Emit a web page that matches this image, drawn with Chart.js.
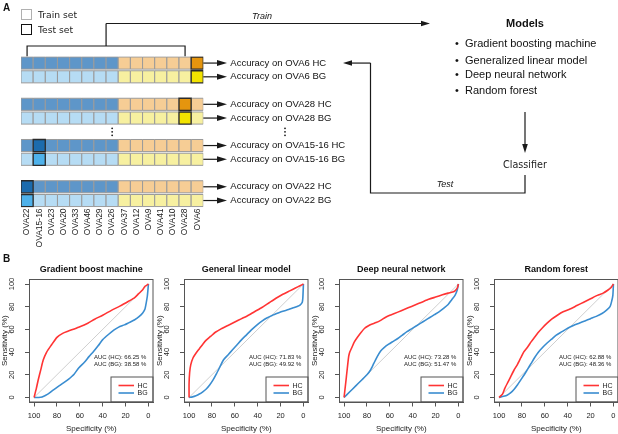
<!DOCTYPE html>
<html>
<head>
<meta charset="utf-8">
<script src="https://cdn.jsdelivr.net/npm/chart.js@4.4.1/dist/chart.umd.min.js"></script>
<style>
  html, body { margin: 0; padding: 0; background: #fff; overflow: hidden; }
  body { width: 618px; height: 434px; position: relative; font-family: 'Liberation Sans', Arial, sans-serif; color: #111; }
  canvas { position: absolute; }
  .t { position: absolute; white-space: nowrap; z-index: 2; }
  .sq { position: absolute; box-sizing: border-box; background: #fff; z-index: 2; }
</style>
</head>
<body>
<canvas id="grid" width="618" height="255" style="left:0;top:0"></canvas>
<canvas id="roc0" width="155" height="174" style="left:0;top:260px"></canvas>
<canvas id="roc1" width="155" height="174" style="left:155px;top:260px"></canvas>
<canvas id="roc2" width="155" height="174" style="left:310px;top:260px"></canvas>
<canvas id="roc3" width="155" height="174" style="left:465px;top:260px"></canvas>
<div class="sq" style="left:21px;top:9px;width:11px;height:11px;border:1px solid #b0b0b0"></div>
<div class="sq" style="left:21px;top:24px;width:11px;height:11px;border:1.4px solid #111"></div>
<script>
// ---- panel A: cross-validation layout ----
const columns = ['OVA22', 'OVA15-16', 'OVA23', 'OVA20', 'OVA33', 'OVA46', 'OVA29', 'OVA26',
                 'OVA37', 'OVA12', 'OVA9', 'OVA41', 'OVA10', 'OVA28', 'OVA6'];
const blueCount = 8;
const rowSlots = [0, 1, 3, 4, 6, 7, 9, 10];
const rowTypes = ['HC', 'BG', 'HC', 'BG', 'HC', 'BG', 'HC', 'BG'];
const rowLabels = ['Accuracy on OVA6 HC', 'Accuracy on OVA6 BG',
                   'Accuracy on OVA28 HC', 'Accuracy on OVA28 BG',
                   'Accuracy on OVA15-16 HC', 'Accuracy on OVA15-16 BG',
                   'Accuracy on OVA22 HC', 'Accuracy on OVA22 BG'];
const testColumns = [14, 14, 13, 13, 1, 1, 0, 0];
const modelNames = ['Gradient boosting machine', 'Generalized linear model', 'Deep neural network', 'Random forest'];

// ---- panel B: ROC curves (specificity %, sensitivity %) ----
const rocTitles = ['Gradient boost machine', 'General linear model', 'Deep neural network', 'Random forest'];
const aucHC = ['66.25', '71.83', '73.28', '62.88'];
const aucBG = ['38.58', '49.92', '51.47', '48.36'];
const rocTicks = [0, 20, 40, 60, 80, 100];

const gbmHcSpec = [100, 98, 96.5, 94, 92, 89, 85, 80, 75, 70, 61, 53, 47, 40, 32, 25, 17, 12, 8.5, 5, 3, 0];
const gbmHcSens = [0, 8, 15, 25, 33, 40, 46, 53, 56.5, 58.5, 62, 65.5, 69, 72.5, 77, 80.5, 85, 88, 91.5, 95, 98, 100];
const gbmBgSpec = [100, 96, 93, 88, 84, 79, 74, 70, 65, 61, 56, 52, 48, 44, 40, 35, 30, 26, 21, 17, 12, 8.5, 5, 3, 2, 1, 0.5, 0];
const gbmBgSens = [0, 0, 0.5, 3, 6, 9.5, 13, 16, 20.5, 26, 31, 36, 40.5, 45.5, 51, 55.5, 59.5, 62, 64, 66, 68.5, 71, 74.5, 78, 83, 89, 94, 100];

const glmHcSpec = [100, 100, 99.5, 98.5, 96.5, 94, 91, 88, 85, 81, 77, 72, 66, 60, 54, 48, 42, 36, 30, 24, 18, 12, 7, 3, 0];
const glmHcSens = [0, 12, 22, 29, 35, 39, 43, 47, 50.5, 54, 57.5, 60.5, 63.5, 66.5, 69.5, 72.5, 76, 79.5, 83.5, 87.5, 91, 94, 96.5, 98.5, 100];
const glmBgSpec = [100, 97, 94, 91, 88, 85, 82, 79, 76, 73, 70, 66, 62, 58, 54, 50, 45, 40, 36, 32, 27, 22, 18, 13, 9, 5, 3, 1, 0.5, 0];
const glmBgSens = [0, 0.5, 1.5, 3, 5, 7.5, 11, 15.5, 21, 27, 33, 37.5, 42, 46.5, 51, 55, 60, 64.5, 67.5, 70, 72.5, 74.5, 76, 77.5, 79, 80.5, 81.5, 84, 88, 100];

const dnnHcSpec = [100, 98, 96, 95, 93, 91, 88, 85, 82, 79, 76, 72, 68, 64, 60, 56, 50, 44, 38, 32, 26, 20, 14, 9, 5, 3, 1, 0];
const dnnHcSens = [0, 18, 36, 40, 44.5, 49, 53.5, 57.5, 61, 63, 64.5, 66, 68, 70.5, 72.5, 74, 76.5, 79, 81.5, 84, 86.5, 88.5, 90.5, 92, 93, 94, 96.5, 100];
const dnnBgSpec = [100, 95, 90, 85, 80, 77, 74, 71, 68, 65, 61, 57, 53, 49, 45, 41, 37, 33, 29, 25, 21, 17, 13, 9, 6, 3, 1, 0];
const dnnBgSens = [0, 5, 10, 15, 20, 24, 30, 36, 41, 44, 47, 49.5, 52, 55, 58, 60.5, 63, 65.5, 68, 70.5, 73, 75.5, 78.5, 82, 86, 90, 95, 100];

const rfHcSpec = [100, 97, 95, 92, 90, 87, 84, 81, 78.5, 75, 72, 69, 66, 62, 58, 54, 49, 44, 38, 32, 26, 20, 14, 9, 5, 2, 0];
const rfHcSens = [0, 3, 8, 14, 18, 24, 29, 35, 40, 44.5, 49, 53, 57, 61.5, 65.5, 69, 72.5, 75.5, 78, 81, 84, 87, 90, 92, 94.5, 97, 100];
const rfBgSpec = [100, 96, 93, 90, 87, 84, 81, 78, 75, 72, 69, 66, 62, 58, 54, 50, 45, 40, 35, 30, 25, 20, 15, 10, 6, 3, 1.5, 0.5, 0];
const rfBgSens = [0, 1, 2, 4, 7, 11, 15.5, 20, 25, 30, 35, 39.5, 44, 48, 51.5, 55, 58, 61, 63.5, 65.5, 67.5, 69.5, 71.5, 74, 77, 80, 85, 90, 100];

const diagSpec = [100, 0];
const diagSens = [0, 100];

const hcSpec = [gbmHcSpec, glmHcSpec, dnnHcSpec, rfHcSpec];
const hcSens = [gbmHcSens, glmHcSens, dnnHcSens, rfHcSens];
const bgSpec = [gbmBgSpec, glmBgSpec, dnnBgSpec, rfBgSpec];
const bgSens = [gbmBgSens, glmBgSens, dnnBgSens, rfBgSens];

const FONT = "'Liberation Sans', Arial, sans-serif";
const RED = '#ff3434';
const BLUE = '#3a8dd0';
const cellColors = {
  HC: { blue: '#5e96c9', orange: '#f6cd95', testBlue: '#1c6bad', testOrange: '#e5950e' },
  BG: { blue: '#b6dcf4', orange: '#f7f0a0', testBlue: '#4eb1ea', testOrange: '#f2e300' }
};

Chart.defaults.font.family = FONT;
Chart.defaults.color = '#222';

// html text helper
function txt(s, x, cy, size, css, center) {
  const d = document.createElement('div');
  d.className = 't';
  d.textContent = s;
  d.style.left = x + 'px';
  d.style.top = (cy - size * 0.6) + 'px';
  d.style.fontSize = size + 'px';
  d.style.lineHeight = (size * 1.2) + 'px';
  if (center) d.style.transform = 'translateX(-50%)';
  if (css) d.style.cssText += css;
  document.body.appendChild(d);
}

txt('A', 3, 7.5, 10, 'font-weight:bold');
txt('B', 3, 259, 10, 'font-weight:bold');
txt('Train set', 38, 15, 9.2, "font-family:'DejaVu Sans';color:#222");
txt('Test set', 38, 29.5, 9.2, "font-family:'DejaVu Sans';color:#222");
txt('Train', 262, 16, 9, 'font-style:italic', true);
txt('Test', 445, 184, 9, 'font-style:italic', true);
txt('Models', 525, 23.5, 11, 'font-weight:bold', true);
const bulletY = [43.5, 60.5, 75, 90.5];
modelNames.forEach((m, i) => {
  txt('\u2022', 455, bulletY[i], 11);
  txt(m, 465, bulletY[i], 11);
});
txt('Classifier', 525, 164.5, 9.6, "font-family:'DejaVu Sans';color:#222", true);

// ---- panel A chart ----
function arrow(ctx, x1, y1, x2, y2, len, half) {
  const ang = Math.atan2(y2 - y1, x2 - x1);
  const bx = x2 - len * Math.cos(ang), by = y2 - len * Math.sin(ang);
  ctx.beginPath(); ctx.moveTo(x1, y1); ctx.lineTo(bx, by); ctx.stroke();
  ctx.beginPath();
  ctx.moveTo(x2, y2);
  ctx.lineTo(bx + half * Math.sin(ang), by - half * Math.cos(ang));
  ctx.lineTo(bx - half * Math.sin(ang), by + half * Math.cos(ang));
  ctx.closePath(); ctx.fill();
}

const gridDecor = {
  id: 'gridDecor',
  afterDraw(chart) {
    const { ctx, chartArea: a, scales: { x, y } } = chart;
    ctx.save();
    ctx.strokeStyle = '#1a1a1a'; ctx.fillStyle = '#1a1a1a'; ctx.lineWidth = 1.2;
    rowSlots.forEach(s => {
      const py = y.getPixelForValue(s);
      arrow(ctx, a.right, py, 227, py, 10, 3);
    });
    // bracket over training columns of the first pair
    const bx0 = x.getPixelForValue(0), bx1 = x.getPixelForValue(13), bm = (bx0 + bx1) / 2;
    ctx.beginPath();
    ctx.moveTo(bx0, a.top); ctx.lineTo(bx0, 46); ctx.lineTo(bx1, 46); ctx.lineTo(bx1, a.top);
    ctx.moveTo(bm, 46); ctx.lineTo(bm, 23.5);
    ctx.stroke();
    arrow(ctx, bm, 23.5, 430, 23.5, 9, 2.8);
    // models -> classifier
    arrow(ctx, 525, 112, 525, 153, 9, 2.8);
    // classifier -> test -> first row
    const y0 = y.getPixelForValue(0);
    ctx.beginPath();
    ctx.moveTo(525, 175); ctx.lineTo(525, 193); ctx.lineTo(370.5, 193); ctx.lineTo(370.5, y0);
    ctx.stroke();
    arrow(ctx, 370.5, y0, 343, y0, 9, 2.8);
    // vertical ellipses
    const cy = y.getPixelForValue(5);
    [x.getPixelForValue(7), 285].forEach(px => {
      [-3.5, 0, 3.5].forEach(d => { ctx.beginPath(); ctx.arc(px, cy + d, 0.9, 0, Math.PI * 2); ctx.fill(); });
    });
    ctx.restore();
  }
};

const cellPts = [], cellBg = [], testPts = [], testBg = [];
rowSlots.forEach((slot, r) => {
  const c = cellColors[rowTypes[r]];
  columns.forEach((name, i) => {
    const isBlue = i < blueCount;
    if (i === testColumns[r]) {
      testPts.push({ x: i, y: slot });
      testBg.push(isBlue ? c.testBlue : c.testOrange);
    } else {
      cellPts.push({ x: i, y: slot });
      cellBg.push(isBlue ? c.blue : c.orange);
    }
  });
});

new Chart(document.getElementById('grid'), {
  type: 'scatter',
  data: {
    datasets: [
      { data: testPts, pointStyle: 'rect', pointRadius: 8.55, backgroundColor: testBg, borderColor: '#2a2a2a', borderWidth: 1.3 },
      { data: cellPts, pointStyle: 'rect', pointRadius: 8.55, backgroundColor: cellBg, borderColor: '#9a9a9a', borderWidth: 1 }
    ]
  },
  options: {
    responsive: false, animation: false, events: [],
    layout: { padding: { left: 21, top: 56.2, right: 0, bottom: 0 } },
    plugins: { legend: { display: false }, tooltip: { enabled: false } },
    scales: {
      x: {
        type: 'linear', position: 'bottom', min: -0.5, max: 14.5,
        afterBuildTicks: s => { s.ticks = columns.map((c, i) => ({ value: i })); },
        afterFit: s => { s.height = 47.6; },
        grid: { display: false, drawTicks: false },
        border: { display: false },
        ticks: { autoSkip: false, minRotation: 90, maxRotation: 90, padding: 1, font: { size: 8.5 }, color: '#222',
                 callback: v => columns[v] }
      },
      y: {
        type: 'linear', position: 'right', min: -0.5, max: 10.5, reverse: true,
        afterBuildTicks: s => { s.ticks = rowSlots.map(v => ({ value: v })); },
        afterFit: s => { s.width = 618 - 203.3; },
        grid: { display: false, drawTicks: false },
        border: { display: false },
        ticks: { autoSkip: false, padding: 27, font: { size: 9.5 }, color: '#111',
                 callback: v => rowLabels[rowSlots.indexOf(v)] }
      }
    }
  },
  plugins: [gridDecor]
});

// ---- panel B charts ----
const toXY = (xs, ys) => xs.map((v, i) => ({ x: v, y: ys[i] }));

const rocDecor = {
  id: 'rocDecor',
  afterDraw(chart) {
    const { ctx, chartArea: a, scales: { y } } = chart;
    const k = chart.options.plugins.rocDecor.k;
    ctx.save();
    ctx.strokeStyle = '#555'; ctx.lineWidth = 1;
    ctx.strokeRect(a.left, a.top, a.right - a.left, a.bottom - a.top);
    // y tick labels, parallel to the axis as in base R
    ctx.fillStyle = '#222';
    ctx.font = '7.5px ' + FONT;
    ctx.textAlign = 'center'; ctx.textBaseline = 'middle';
    rocTicks.forEach(v => {
      ctx.save();
      ctx.translate(a.left - 17.5, y.getPixelForValue(v));
      ctx.rotate(-Math.PI / 2);
      ctx.fillText(String(v), 0, 0);
      ctx.restore();
    });
    // AUC text
    ctx.font = '6px ' + FONT;
    ctx.textAlign = 'left';
    ctx.fillText('AUC (HC): ' + aucHC[k] + ' %', a.left + 64.5, a.top + 78.2);
    ctx.fillText('AUC (BG): ' + aucBG[k] + ' %', a.left + 64.5, a.top + 84.5);
    // legend box
    const lx = a.left + 81.5, ly = a.top + 97.5;
    ctx.strokeStyle = '#555';
    ctx.strokeRect(lx, ly, a.right - lx, a.bottom - ly);
    ctx.font = '7px ' + FONT;
    chart.data.datasets.slice(0, 2).forEach((ds, i) => {
      const yy = ly + 8.5 + i * 7.5;
      ctx.strokeStyle = ds.borderColor; ctx.lineWidth = 1.6;
      ctx.beginPath(); ctx.moveTo(lx + 7.5, yy); ctx.lineTo(lx + 23, yy); ctx.stroke();
      ctx.fillStyle = '#222';
      ctx.fillText(ds.label, lx + 26.5, yy + 0.3);
    });
    ctx.restore();
  }
};

function rocChart(k) {
  const axisBase = {
    type: 'linear', min: -4, max: 104,
    afterBuildTicks: s => { s.ticks = rocTicks.map(v => ({ value: v })); },
    grid: { drawOnChartArea: false, drawTicks: true, tickLength: 4.5, tickColor: '#555' },
    border: { display: true, color: '#555' }
  };
  new Chart(document.getElementById('roc' + k), {
    type: 'scatter',
    data: {
      datasets: [
        { label: 'HC', data: toXY(hcSpec[k], hcSens[k]), showLine: true, borderColor: RED, borderWidth: 1.6, pointRadius: 0, tension: 0.2 },
        { label: 'BG', data: toXY(bgSpec[k], bgSens[k]), showLine: true, borderColor: BLUE, borderWidth: 1.6, pointRadius: 0, tension: 0.2 },
        { label: 'ref', data: toXY(diagSpec, diagSens), showLine: true, borderColor: '#cfcfcf', borderWidth: 1, pointRadius: 0 }
      ]
    },
    options: {
      responsive: false, animation: false, events: [],
      layout: { padding: { left: 0, top: 0, right: 2, bottom: 0 } },
      plugins: {
        legend: { display: false }, tooltip: { enabled: false },
        title: { display: true, text: rocTitles[k], fullSize: false, color: '#111',
                 font: { size: 9, weight: 'bold' }, padding: { top: 4.6, bottom: 4.1 } },
        rocDecor: { k: k }
      },
      scales: {
        x: Object.assign({}, axisBase, {
          reverse: true,
          afterFit: s => { s.height = 32; },
          ticks: { autoSkip: false, maxRotation: 0, padding: 5, font: { size: 7.5 }, color: '#222' },
          title: { display: true, text: 'Specificity (%)', font: { size: 8, lineHeight: 1 }, color: '#222', padding: { top: 0, bottom: 1 } }
        }),
        y: Object.assign({}, axisBase, {
          afterFit: s => { s.width = 29.5; },
          ticks: { display: false },
          title: { display: true, text: 'Sensitivity (%)', font: { size: 8, lineHeight: 1 }, color: '#222', padding: { top: 1, bottom: 0 } }
        })
      }
    },
    plugins: [rocDecor]
  });
}

[0, 1, 2, 3].forEach(rocChart);
</script>
</body>
</html>
